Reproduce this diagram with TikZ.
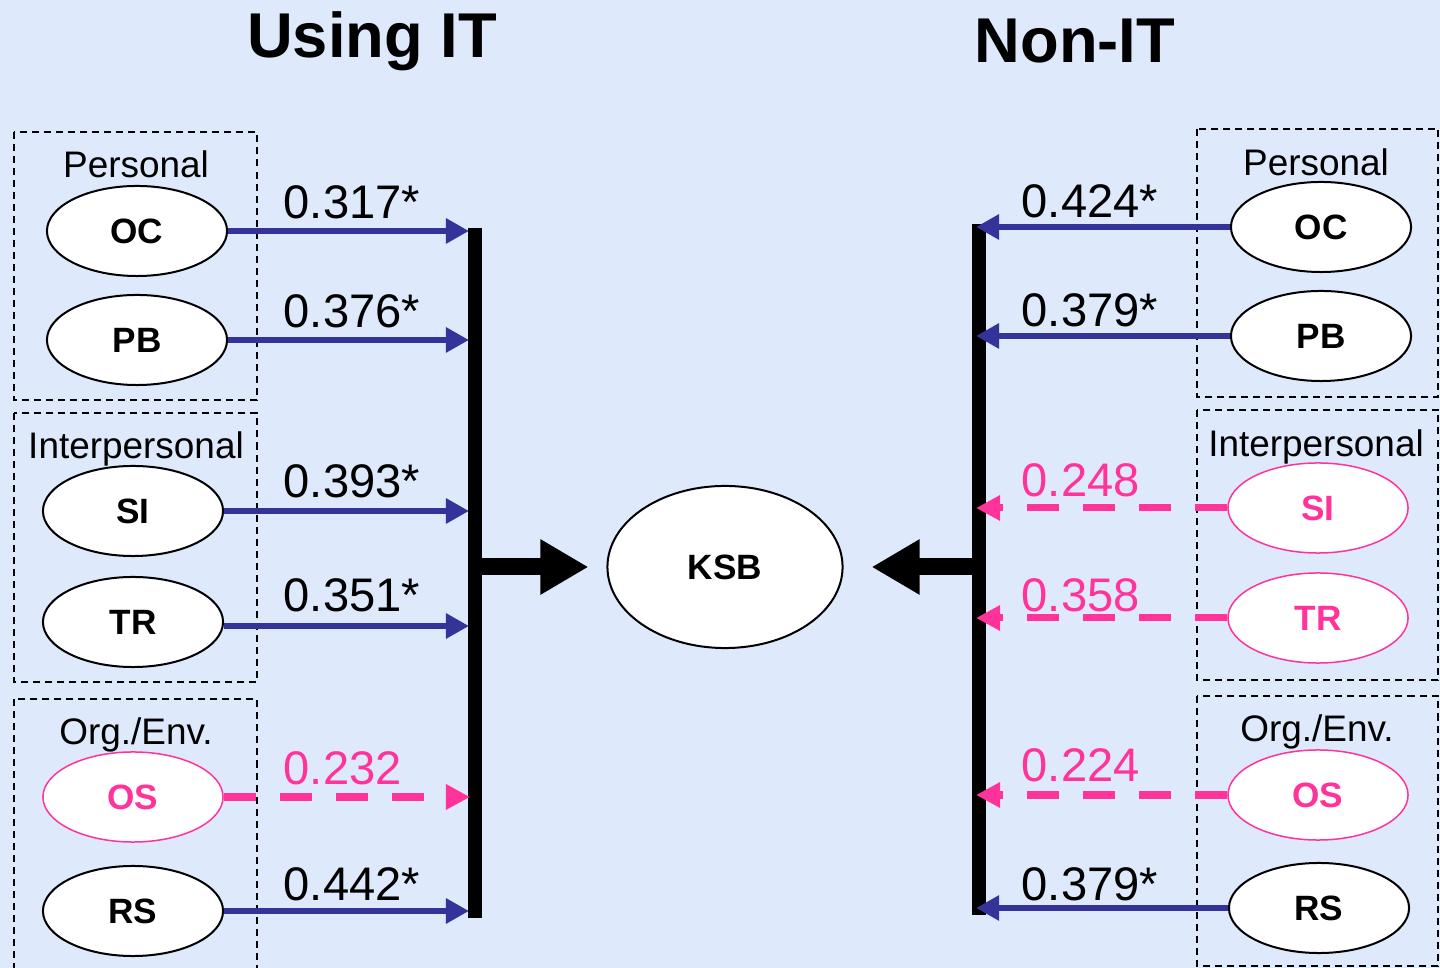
\documentclass[tikz,border=0pt]{standalone}
\usepackage{fontspec}
\setmainfont{Liberation Sans}
\usepackage{tikz}
\usetikzlibrary{calc}
\usetikzlibrary{shapes.geometric, arrows.meta}
\definecolor{bgblue}{RGB}{222,233,251}
\definecolor{sigblue}{RGB}{51,51,153}
\definecolor{nspink}{RGB}{255,51,153}
\tikzstyle{factor} = [ellipse, 
minimum width=1.8cm, 
minimum height=0.9cm, 
draw=black, 
line width=0.02cm, 
fill=white, 
font=\bfseries\fontsize{10}{12}\selectfont]
\tikzstyle{nsfactor} = [factor, draw=nspink, text=nspink, line width=0.015cm]
\tikzstyle{groupbox} = [draw=black, line width=0.015cm, dash pattern=on 0.07cm off 0.05cm]
\tikzstyle{grouplabel} = [anchor=base, inner sep=0pt, font=\fontsize{10.5}{12}\selectfont]
\tikzstyle{val} = [anchor=base west, inner sep=0pt, font=\fontsize{13.4}{16}\selectfont]
\tikzstyle{sarrow} = [sigblue, line width=0.065cm, -{Triangle[length=0.23cm, width=0.24cm]}]
\tikzstyle{nsarrow} = [nspink, line width=0.07cm, dash pattern=on 0.32cm off 0.24cm, -{Triangle[length=0.24cm, width=0.24cm]}]
\tikzstyle{bar} = [black, line width=0.14cm]
\tikzstyle{blockarrow} = [black, line width=0.17cm, -{Triangle[length=0.48cm, width=0.52cm]}]
\tikzstyle{title} = [anchor=base, inner sep=0pt, font=\bfseries\fontsize{18}{22}\selectfont]

\begin{document}
\begin{tikzpicture}[x=0.01cm, y=-0.01cm]
    \clip (0,0) rectangle (1440,968);
    \fill[bgblue] (0,0) rectangle (1440,968);

    % Titles
    \node (tit) [title] at (372,58) {Using IT};
    \node (tnon) [title] at (1075,63) {Non-IT};

    % Group boxes
    \draw [groupbox] (14,132) rectangle (257,400);
    \draw [groupbox] (14,413) rectangle (257,682);
    \draw [groupbox] (14,699) rectangle (257,990);
    \draw [groupbox] (1197,129) rectangle (1438,397);
    \draw [groupbox] (1197,410) rectangle (1438,680);
    \draw [groupbox] (1197,696) rectangle (1438,966);

    \node (lpers) [grouplabel] at (136,178) {Personal};
    \node (linter) [grouplabel] at (136,459) {Interpersonal};
    \node (lorg) [grouplabel] at (136,745) {Org./Env.};
    \node (rpers) [grouplabel] at (1316,176) {Personal};
    \node (rinter) [grouplabel] at (1316,457) {Interpersonal};
    \node (rorg) [grouplabel] at (1317,742) {Org./Env.};

    % Using IT factors
    \node (loc) [factor] at (137,231) {OC};
    \node (lpb) [factor] at (137,340) {PB};
    \node (lsi) [factor] at (133,511) {SI};
    \node (ltr) [factor] at (133,622) {TR};
    \node (los) [nsfactor] at (133,797) {OS};
    \node (lrs) [factor] at (133,911) {RS};

    % Non-IT factors
    \node (roc) [factor] at (1321,227) {OC};
    \node (rpb) [factor] at (1321,336) {PB};
    \node (rsi) [nsfactor] at (1318,508) {SI};
    \node (rtr) [nsfactor] at (1318,618) {TR};
    \node (ros) [nsfactor] at (1318,795) {OS};
    \node (rrs) [factor] at (1319,908) {RS};

    % Outcome
    \node (ksb) [factor, minimum width=2.35cm, minimum height=1.62cm] at (725,567) {KSB};

    % Bars
    \coordinate (lbtop) at (475,228);
    \coordinate (lbbot) at (475,918);
    \coordinate (rbtop) at (979,224);
    \coordinate (rbbot) at (979,915);

    \draw [blockarrow, shorten >=0.18cm] (lbtop |- ksb.west) -- (ksb.west);
    \draw [blockarrow, shorten >=0.28cm] (rbtop |- ksb.east) -- (ksb.east);
    \draw [bar] (lbtop) -- (lbbot);
    \draw [bar] (rbtop) -- (rbbot);

    % Using IT arcs
    \draw [sarrow, shorten >=0.06cm] (loc.east) -- (loc.east -| lbtop);
    \draw [sarrow, shorten >=0.06cm] (lpb.east) -- (lpb.east -| lbtop);
    \draw [sarrow, shorten >=0.06cm] (lsi.east) -- (lsi.east -| lbtop);
    \draw [sarrow, shorten >=0.06cm] ([yshift=-0.04cm]ltr.east) -- ([yshift=-0.04cm]ltr.east -| lbtop);
    \draw [nsarrow, shorten >=0.05cm] (los.east) -- (los.east -| lbtop);
    \draw [sarrow, shorten >=0.06cm] (lrs.east) -- (lrs.east -| lbtop);

    \node (v1) [val] at (283,219) {0.317*};
    \node (v2) [val] at (283,328) {0.376*};
    \node (v3) [val] at (283,498) {0.393*};
    \node (v4) [val] at (283,612) {0.351*};
    \node (v5) [val, text=nspink] at (283,785) {0.232};
    \node (v6) [val] at (283,900) {0.442*};

    % Non-IT arcs
    \draw [sarrow, shorten >=-0.03cm] (roc.west) -- (roc.west -| rbtop);
    \draw [sarrow, shorten >=-0.03cm] (rpb.west) -- (rpb.west -| rbtop);
    \draw [nsarrow, shorten >=-0.03cm] (rsi.west) -- (rsi.west -| rbtop);
    \draw [nsarrow, shorten >=-0.03cm] (rtr.west) -- (rtr.west -| rbtop);
    \draw [nsarrow, shorten >=-0.03cm] (ros.west) -- (ros.west -| rbtop);
    \draw [sarrow, shorten >=-0.03cm] (rrs.west) -- (rrs.west -| rbtop);

    \node (w1) [val] at (1021,218) {0.424*};
    \node (w2) [val] at (1021,327) {0.379*};
    \node (w3) [val, text=nspink] at (1021,497) {0.248};
    \node (w4) [val, text=nspink] at (1021,612) {0.358};
    \node (w5) [val, text=nspink] at (1021,782) {0.224};
    \node (w6) [val] at (1021,900) {0.379*};
  \end{tikzpicture}
\end{document}
